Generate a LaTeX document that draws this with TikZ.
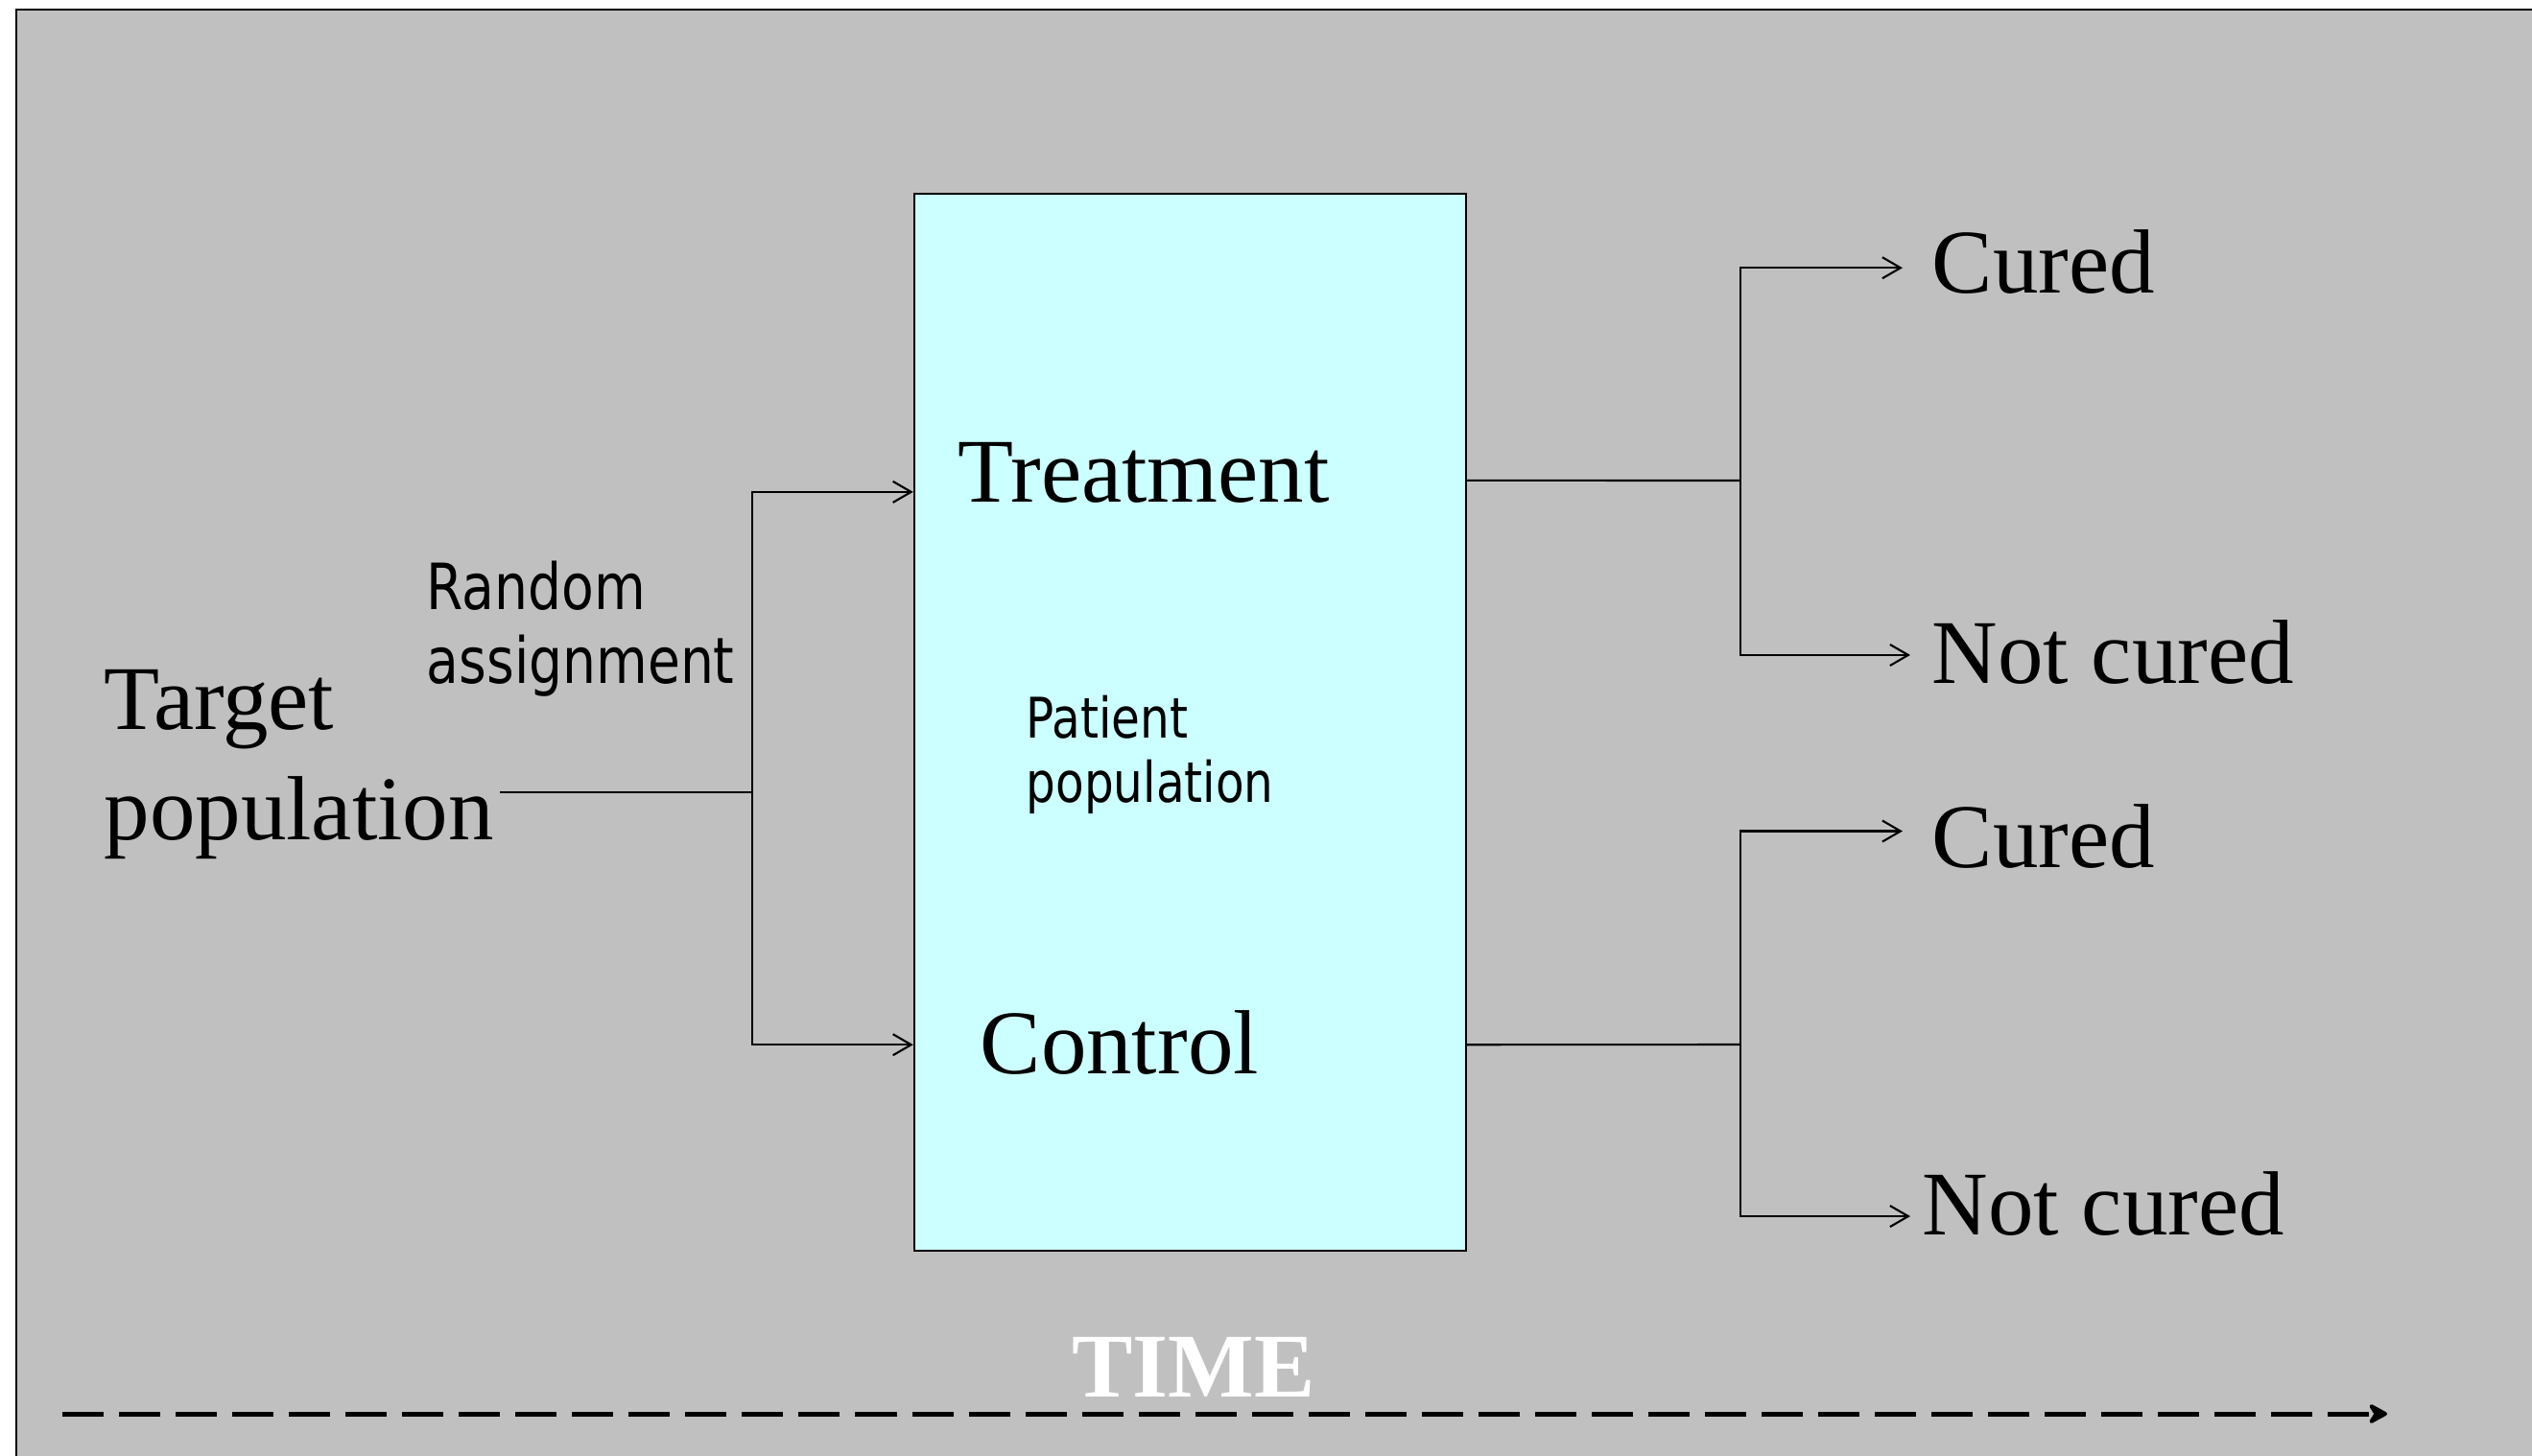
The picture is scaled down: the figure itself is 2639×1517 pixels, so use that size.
\documentclass[tikz,border=0pt]{standalone}
\usepackage{fontspec}
\setmainfont{Liberation Serif}
\newfontfamily\slidesans[FakeStretch=0.83]{DejaVu Sans}
\usetikzlibrary{arrows.meta, positioning}
\definecolor{slidegray}{RGB}{192,192,192}
\definecolor{boxcyan}{RGB}{204,255,255}

\begin{document}
\begin{tikzpicture}[x=0.01cm, y=-0.01cm,
    >={Straight Barb[length=1.9mm,width=2.2mm]},
    conn/.style={line width=0.6pt},
    serifbig/.style={inner sep=0pt, anchor=base west, align=left,
      font=\fontsize{27}{32.5}\selectfont},
    sanslabel/.style={inner sep=0pt, anchor=base west, align=left,
      font=\slidesans\fontsize{18.9}{21.9}\selectfont},
    sanssmall/.style={inner sep=0pt, anchor=base west, align=left,
      font=\slidesans\fontsize{16.6}{19}\selectfont}]
    \useasboundingbox (0,0) rectangle (2639,1517);
    \draw[line width=0.8pt, fill=slidegray] (17,10) rectangle (2700,1600);

    \node[draw, line width=0.6pt, fill=boxcyan, inner sep=0pt,
      minimum width=5.75cm, minimum height=11.02cm] (box) at (1240.5,753) {};
    \node[serifbig] (treat) at (998,523) {Treatment};
    \node[serifbig] (ctrl) at (1021,1119) {Control};
    \node[sanssmall] (patient) at (1069,836) {Patient\\population};
    \node[serifbig] (target) at (108,875) {Target\\population};
    \node[sanslabel] (random) at (444,712) {Random\\assignment};
    \node[serifbig] (cured1) at (2013,305) {Cured};
    \node[serifbig] (notcured1) at (2013,712) {Not cured};
    \node[serifbig] (cured2) at (2013,904) {Cured};
    \node[serifbig] (notcured2) at (2003,1287) {Not cured};
    \node[font=\bfseries\fontsize{27}{32}\selectfont, text=white, inner sep=0pt,
      anchor=base] (time) at (1244,1456) {TIME};

    \coordinate (tgtend) at (521,826);
    \coordinate (split) at (784,826);
    \coordinate (tsplit) at (1814,501);
    \coordinate (csplit) at (1814,1089);
    \coordinate (tstart) at (65,1474);
    \coordinate (tend) at (2488,1474);

    \draw[conn] (tgtend) -- (split);
    \draw[conn,->] (split) |- ([yshift=2.4cm]box.west);
    \draw[conn,->] (split) |- ([yshift=-3.36cm]box.west);
    \draw[conn] ([yshift=2.52cm]box.east) -- (tsplit);
    \draw[conn] ([yshift=-3.36cm]box.east) -- (csplit);
    \draw[conn,->] (tsplit) |- ([xshift=-0.3cm,yshift=-0.067cm]cured1.west);
    \draw[conn,->] (tsplit) |- ([xshift=-0.22cm,yshift=-0.034cm]notcured1.west);
    \draw[conn,->] (csplit) |- ([xshift=-0.3cm,yshift=0.05cm]cured2.west);
    \draw[conn,->] (csplit) |- ([xshift=-0.12cm,yshift=-0.135cm]notcured2.west);
    \draw[line width=0.05cm, dash pattern=on 0.43cm off 0.16cm,
      -{Stealth[length=2.4mm,width=2.6mm,inset=0.8mm,round]}] (tstart) -- (tend);
\end{tikzpicture}
\end{document}
